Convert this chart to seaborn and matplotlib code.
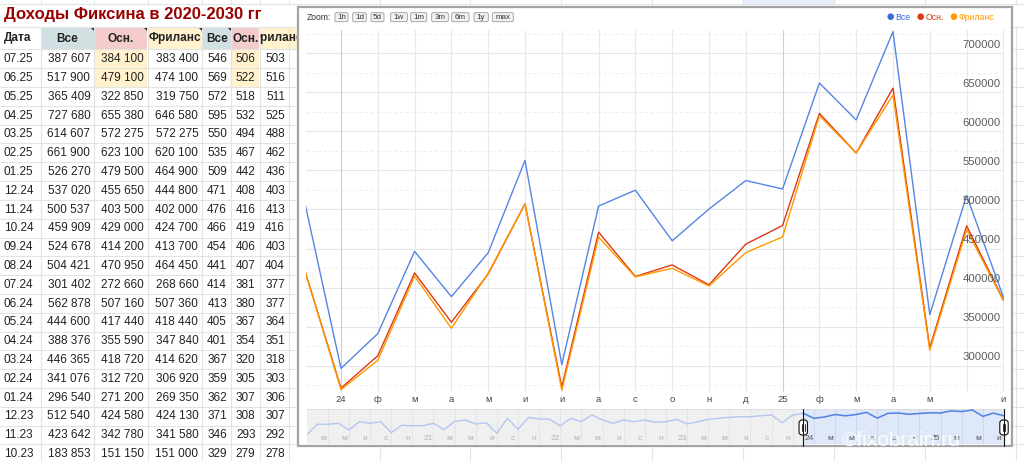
import numpy as np
import pandas as pd
import matplotlib.pyplot as plt
import matplotlib.transforms as mtransforms
from matplotlib.patches import Rectangle, FancyBboxPatch, Polygon, Circle
import seaborn as sns

W, H = 1024, 461

# ============================================================
# DATA (read from the sheet / chart)
# ============================================================
title = 'Доходы Фиксина в 2020-2030 гг'
headers = ['Дата', 'Все', 'Осн.', 'Фриланс', 'Все', 'Осн.', 'Фриланс']
series_names = ['Все', 'Осн.', 'Фриланс']

dates = ['07.25', '06.25', '05.25', '04.25', '03.25', '02.25', '01.25', '12.24', '11.24', '10.24',
         '09.24', '08.24', '07.24', '06.24', '05.24', '04.24', '03.24', '02.24', '01.24', '12.23',
         '11.23', '10.23']
vse = [387607, 517900, 365409, 727680, 614607, 661900, 526270, 537020, 500537, 459909,
       524678, 504421, 301402, 562878, 444600, 388376, 446365, 341076, 296540, 512540,
       423642, 183853]
osn = [384100, 479100, 322850, 655380, 572275, 623100, 479500, 455650, 403500, 429000,
       414200, 470950, 272660, 507160, 417440, 355590, 418720, 312720, 271200, 424580,
       342780, 151150]
free = [383400, 474100, 319750, 646580, 572275, 620100, 464900, 444800, 402000, 424700,
        413700, 464450, 268660, 507360, 418440, 347840, 414620, 306920, 269350, 424130,
        341580, 151000]
vse_r = [546, 569, 572, 595, 550, 535, 509, 471, 476, 466, 454, 441, 414, 413, 405, 401,
         367, 359, 362, 371, 346, 329]
osn_r = [506, 522, 518, 532, 494, 467, 442, 408, 416, 419, 406, 407, 381, 380, 367, 354,
         320, 305, 307, 308, 293, 279]
free_r = [503, 516, 511, 525, 488, 462, 436, 403, 413, 416, 403, 404, 377, 377, 364, 351,
          318, 303, 306, 307, 292, 278]

# navigator history (Все), 01.20 .. 09.23, estimated from the mini chart
nav_hist = [48600, 155000, 155000, 173000, 83600, 205000, 173000, 205000, 62400, 139000,
            133000, 133000, 173000, 86500, 214000, 247000, 160000, 184000, 58500, 296000,
            90000, 330000, 275000, 266000, 129000, 296000, 205000, 424000, 247000, 173000,
            247000, 205000, 247000, 192000, 205000, 266000, 160000, 205000, 266000, 296000,
            330000, 352000, 352000, 393000, 424000]

month_letters = ['я', 'ф', 'м', 'а', 'м', 'и', 'и', 'а', 'с', 'о', 'н', 'д']
zoom_labels = ['1h', '1d', '5d', '1w', '1m', '3m', '6m', '1y', 'max']
y_labels = [700000, 650000, 600000, 550000, 500000, 450000, 400000, 350000, 300000]

colors = {'Все': '#5585e2', 'Осн.': '#dc3912', 'Фриланс': '#ff9900'}
legend_colors = {'Все': '#3a6fd8', 'Осн.': '#dc3912', 'Фриланс': '#ff9900'}


def month_idx(d):
    mm, yy = d.split('.')
    return (int(yy) - 20) * 12 + int(mm) - 1


def month_lbl(j):
    return str(20 + j // 12) if j % 12 == 0 else month_letters[j % 12]


def fmt(v):
    return f'{v:,}'.replace(',', ' ')


def px_rect(x0, y0, x1, y1):
    return [x0 / W, 1 - y1 / H, (x1 - x0) / W, (y1 - y0) / H]


sns.set_theme(style='white')
plt.rcParams['font.family'] = ['Liberation Sans', 'DejaVu Sans']

fig = plt.figure(figsize=(W / 100, H / 100), dpi=100)
fig.patch.set_facecolor('white')

# ============================================================
# SHEET BACKGROUND
# ============================================================
bg = fig.add_axes([0, 0, 1, 1], zorder=0)
bg.set_xlim(0, W)
bg.set_ylim(H, 0)
bg.axis('off')

grid_c = '#e2e3e3'
cols = [0, 40.7, 94.3, 147.7, 202.3, 231, 259.5, 289]
far_cols = [380, 470, 561, 652, 743, 834, 925, 1016]
row0, rh = 49.5, 18.8

bg.add_patch(Rectangle((744, 0), 91, 4, fc='#e8f0fe', ec='none'))
bg.axhline(4, color=grid_c, lw=0.8)
bg.axhline(27, color=grid_c, lw=0.8)
for k in range(23):
    bg.axhline(row0 + k * rh, color=grid_c, lw=0.8)
for x in cols[1:] + far_cols:
    bg.plot([x, x], [0, 4], color=grid_c, lw=0.8)
    bg.plot([x, x], [27, H], color=grid_c, lw=0.8)

bg.text(4, 15, title, fontsize=12, fontweight='bold', color='#990000', va='center')

head_bg = [None, '#d0e0e3', '#f4cccc', '#fff2cc', '#d0e0e3', '#f4cccc', '#fff2cc']
for c, name in enumerate(headers):
    x0, x1 = cols[c], cols[c + 1]
    # the last header cell runs on under the chart frame
    if c == 6:
        x1 = 298
    if head_bg[c]:
        bg.add_patch(Rectangle((x0 + 0.5, 27.5), x1 - x0 - 1, row0 - 28, fc=head_bg[c], ec='none'))
    clip = Rectangle((x0, 27), x1 - x0, row0 - 27, transform=bg.transData)
    if c == 0:
        t = bg.text(x0 + 4, 38.5, name, fontsize=8.5, fontweight='bold', color='#222', va='center')
    else:
        xc = 277 if c == 6 else (x0 + x1) / 2
        t = bg.text(xc, 38.5, name, fontsize=8.5, fontweight='bold', color='#222',
                    va='center', ha='center')
    t.set_clip_path(clip)
    t.set_clip_on(True)
    if 1 <= c <= 4:
        bg.add_patch(Polygon([[x1 - 4.5, 27.5], [x1 - 0.5, 27.5], [x1 - 0.5, 31.5]], fc='#222', ec='none'))

for r in range(2):
    for c in (2, 5):
        bg.add_patch(Rectangle((cols[c] + 0.5, row0 + r * rh + 0.5), cols[c + 1] - cols[c] - 1, rh - 1,
                               fc='#fff2cc', ec='none'))

table_cols = [vse, osn, free, vse_r, osn_r, free_r]
for r, d in enumerate(dates):
    yc = row0 + r * rh + rh / 2 + 0.3
    bg.text(cols[0] + 4, yc, d, fontsize=8.5, color='#222', va='center')
    for c, vals in enumerate(table_cols, start=1):
        bg.text(cols[c + 1] - 4, yc, fmt(vals[r]), fontsize=8.5, color='#222', va='center', ha='right')

# chart frame
bg.add_patch(Rectangle((298, 7), 714, 439, fc='white', ec='#a3a3a3', lw=1.6, zorder=5))

# zoom buttons
bg.text(306.5, 17, 'Zoom:', fontsize=6.2, color='#333', va='center', zorder=6)
btn_x = [335, 352.7, 371, 390.7, 410.7, 431.7, 451.7, 474, 492.3]
btn_w = [13, 13.6, 13, 16.6, 16, 16.6, 17.3, 14.3, 21]
for lbl, bx, bw in zip(zoom_labels, btn_x, btn_w):
    bg.add_patch(FancyBboxPatch((bx, 12.7), bw, 9, boxstyle='round,pad=0,rounding_size=1.5',
                                fc='#f2f2f2', ec='#9a9a9a', lw=0.6, zorder=6))
    bg.text(bx + bw / 2, 17.3, lbl, fontsize=5.8, color='#333', va='center', ha='center', zorder=7)

# legend
leg_x = [890.7, 920.7, 954]
for name, lx in zip(series_names, leg_x):
    bg.add_patch(Circle((lx, 16.7), 3.3, fc=legend_colors[name], ec='none', zorder=6))
    bg.text(lx + 4.5, 17, name, fontsize=6.3, color=legend_colors[name], va='center', zorder=6)

# ============================================================
# MAIN CHART
# ============================================================
rows = []
for name, vals in zip(series_names, [vse, osn, free]):
    for d, v in zip(dates, vals):
        rows.append({'j': month_idx(d), 'value': v, 'series': name})
df = pd.DataFrame(rows)

ax = fig.add_axes(px_rect(306, 30, 1003.5, 392), zorder=1)
ax.set_facecolor('none')
for s in ax.spines.values():
    s.set_visible(False)

for v in range(300000, 750000, 50000):
    ax.axhline(v, color='#e4e6ee', lw=0.8, zorder=0)
for v in range(275000, 750000, 50000):
    ax.axhline(v, color='#eceef3', lw=0.7, ls=(0, (3, 3)), zorder=0)
for j in range(48, 67):
    ax.axvline(j, color='#cfcfcf' if j % 12 == 0 else '#e8e8e8', lw=0.8, zorder=0)

sns.lineplot(data=df, x='j', y='value', hue='series', hue_order=series_names,
             palette=colors, linewidth=1.0, legend=False, ax=ax, zorder=3)

ax.set_xlim(47.049, 66.003)
ax.set_ylim(266300, 729800)
tick_j = [j for j in range(48, 67) if j != 65]
ax.set_xticks(tick_j)
ax.set_xticklabels([month_lbl(j) for j in tick_j], fontsize=6.8, color='#444')
ax.set_yticks([])
ax.tick_params(axis='x', length=0, pad=2.5)
ax.set_xlabel('')
ax.set_ylabel('')

ytr = mtransforms.offset_copy(mtransforms.blended_transform_factory(ax.transAxes, ax.transData),
                              fig=fig, x=0, y=8.5, units='dots')
for v in y_labels:
    ax.text(0.9964, v, str(v), transform=ytr, fontsize=8.2, color='#5c5c5c', ha='right', va='center')

# ============================================================
# NAVIGATOR
# ============================================================
sel_j = 47
nav_x0, nav_x1, nav_y0, nav_y1 = 306.7, 1004, 409, 444
sel_px = nav_x0 + (nav_x1 - nav_x0) * sel_j / 66
bg.add_patch(Rectangle((nav_x0, nav_y0), sel_px - nav_x0, nav_y1 - nav_y0, fc='#f0f0f0', ec='none', zorder=5.5))
bg.add_patch(Rectangle((sel_px, nav_y0), nav_x1 - sel_px, nav_y1 - nav_y0, fc='#dfe8f8', ec='none', zorder=5.5))
bg.plot([nav_x0, nav_x1], [nav_y0, nav_y0], color='#dcdcdc', lw=0.6, zorder=5.6)

nav_vals = nav_hist + vse[::-1][:22]
nav_df = pd.DataFrame({'j': np.arange(len(nav_vals)), 'value': nav_vals})

nav = fig.add_axes(px_rect(nav_x0, nav_y0, nav_x1, nav_y1), zorder=2)
nav.set_facecolor('none')
nav.axis('off')
nav.set_yscale('log')
for j in range(2, 67, 2):
    nav.axvline(j, color='#e2e2e2' if j < sel_j else '#c9d6ee', lw=0.6, zorder=0)
sns.lineplot(data=nav_df[nav_df.j <= sel_j], x='j', y='value', color='#b3c7ef', linewidth=1.0, ax=nav)
sns.lineplot(data=nav_df[nav_df.j >= sel_j], x='j', y='value', color='#4f80e2', linewidth=1.1, ax=nav)
nav.set_xlim(0, 66)
nav.set_ylim(18400, 811000)

ntr = mtransforms.offset_copy(mtransforms.blended_transform_factory(nav.transData, nav.transAxes),
                              fig=fig, x=-5, y=0, units='dots')
for j in range(2, 67, 2):
    nav.text(j, 0.17, month_lbl(j), transform=ntr, fontsize=6, ha='center', va='center',
             color='#b4b4b4' if j < sel_j else '#555555')

# ============================================================
# OVERLAY: selection handles, watermark
# ============================================================
top = fig.add_axes([0, 0, 1, 1], zorder=10)
top.set_xlim(0, W)
top.set_ylim(H, 0)
top.axis('off')
top.patch.set_alpha(0)
for hx in (sel_px, nav_x1):
    top.plot([hx, hx], [nav_y0, 446], color='#111', lw=0.8)
    top.add_patch(FancyBboxPatch((hx - 4.2, 420), 8.4, 15, boxstyle='round,pad=0,rounding_size=3',
                                 fc='white', ec='#111', lw=0.8))
    top.plot([hx - 1.3, hx - 1.3], [424, 431], color='#111', lw=0.6)
    top.plot([hx + 1.3, hx + 1.3], [424, 431], color='#111', lw=0.6)
top.text(842, 440, '©fixobrain.ru', fontsize=15, color='white', alpha=0.85, va='center')

plt.savefig('out.png', dpi=100)
plt.close()
